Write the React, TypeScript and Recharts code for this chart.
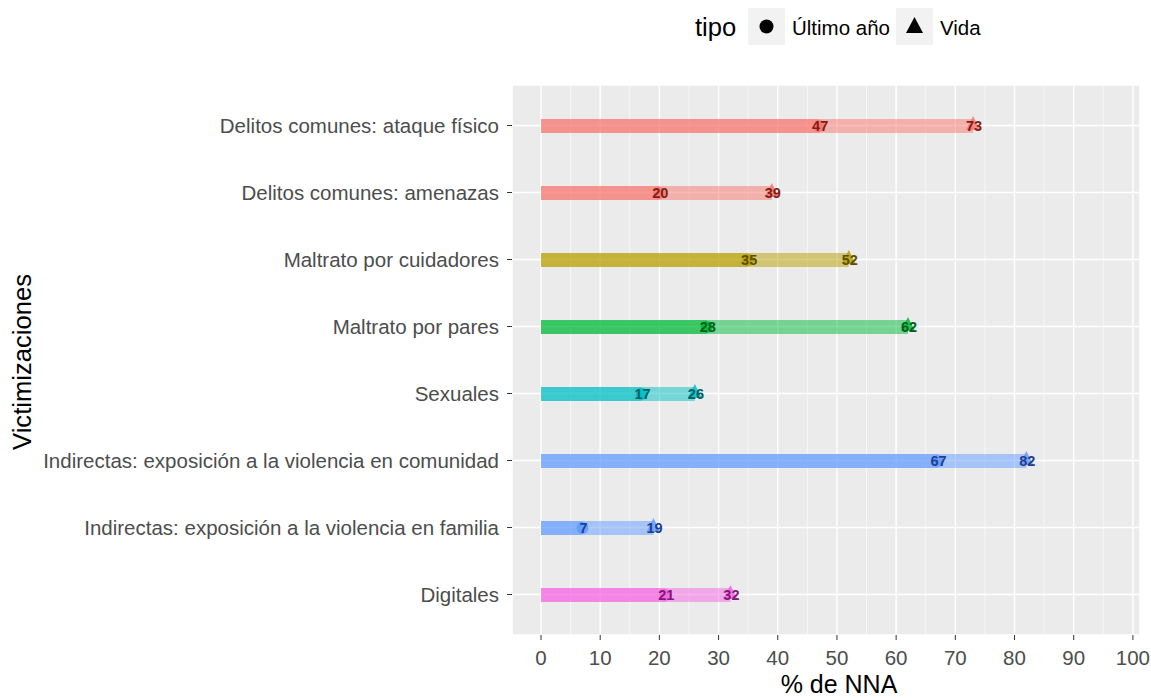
import React from "react";
import { ComposedChart, Bar, XAxis, YAxis, CartesianGrid } from "recharts";

// victimizaciones, de arriba hacia abajo
const categorias = [
  "Delitos comunes: ataque físico",
  "Delitos comunes: amenazas",
  "Maltrato por cuidadores",
  "Maltrato por pares",
  "Sexuales",
  "Indirectas: exposición a la violencia en comunidad",
  "Indirectas: exposición a la violencia en familia",
  "Digitales",
];
const ultimoAnio = [47, 20, 35, 28, 17, 67, 7, 21];
const vida = [73, 39, 52, 62, 26, 82, 19, 32];
const grupos = [
  "delitos",
  "delitos",
  "cuidadores",
  "pares",
  "sexuales",
  "indirectas",
  "indirectas",
  "digitales",
];
const xTicks = [0, 10, 20, 30, 40, 50, 60, 70, 80, 90, 100];
const xMinorTicks = [5, 15, 25, 35, 45, 55, 65, 75, 85, 95];

const colores: Record<string, string> = {
  delitos: "#F8766D",
  cuidadores: "#B79F00",
  pares: "#00BA38",
  sexuales: "#00BFC4",
  indirectas: "#619CFF",
  digitales: "#F564E3",
};
const coloresTexto: Record<string, string> = {
  delitos: "#7F1D17",
  cuidadores: "#5C5000",
  pares: "#005E1C",
  sexuales: "#005F62",
  indirectas: "#1F3F8F",
  digitales: "#7E1A74",
};

const data = categorias.map((name, i) => ({
  name,
  ultimo: ultimoAnio[i],
  vida: vida[i],
  grupo: grupos[i],
}));

const FONT = "'Liberation Sans', Arial, Helvetica, sans-serif";

const VidaShape = (p: any) => {
  const c = colores[p.payload.grupo];
  const cy = p.y + p.height / 2;
  const ex = p.x + p.width;
  return (
    <g>
      <rect x={p.x} y={p.y} width={p.width} height={p.height} fill={c} fillOpacity={0.5} />
      <path d={`M${ex},${cy - 10} L${ex + 7},${cy + 4} L${ex - 7},${cy + 4} Z`} fill={c} fillOpacity={0.85} />
      <text x={ex + 1} y={cy} textAnchor="middle" dominantBaseline="central" fontSize={14.5} fontWeight="bold" fill={coloresTexto[p.payload.grupo]} fontFamily={FONT}>
        {p.payload.vida}
      </text>
    </g>
  );
};

const UltimoShape = (p: any) => {
  const c = colores[p.payload.grupo];
  const cy = p.y + p.height / 2;
  const ex = p.x + p.width;
  return (
    <g>
      <rect x={p.x} y={p.y} width={p.width} height={p.height} fill={c} fillOpacity={0.5} />
      <circle cx={ex} cy={cy} r={6} fill={c} fillOpacity={0.9} />
      <text x={ex + 1} y={cy} textAnchor="middle" dominantBaseline="central" fontSize={14.5} fontWeight="bold" fill={coloresTexto[p.payload.grupo]} fontFamily={FONT}>
        {p.payload.ultimo}
      </text>
    </g>
  );
};

const YTick = (p: any) => (
  <text x={p.x} y={p.y} textAnchor="end" dominantBaseline="central" fontSize={20.5} fill="#4D4D4D" fontFamily={FONT}>
    {p.payload.value}
  </text>
);

const XTick = (p: any) => (
  <text x={p.x} y={p.y} dy="0.71em" textAnchor="middle" fontSize={20.5} fill="#4D4D4D" fontFamily={FONT}>
    {p.payload.value}
  </text>
);

const XTitle = (props: any) => {
  const vb = props.viewBox;
  return (
    <text x={vb.x + vb.width / 2 + 13} y={vb.y + vb.height - 7} textAnchor="middle" fontSize={25} fill="#000" fontFamily={FONT}>
      % de NNA
    </text>
  );
};

const YTitle = (props: any) => {
  const vb = props.viewBox;
  const cx = 22;
  const cy = vb.y + vb.height / 2 + 2;
  return (
    <text x={cx} y={cy} transform={`rotate(-90, ${cx}, ${cy})`} textAnchor="middle" dominantBaseline="central" fontSize={25.6} fill="#000" fontFamily={FONT}>
      Victimizaciones
    </text>
  );
};

const Leyenda = () => (
  <svg width={1151} height={60} style={{ position: "absolute", left: 0, top: 0 }}>
    <text x={695} y={27} dominantBaseline="central" fontSize={25.6} fill="#000" fontFamily={FONT}>tipo</text>
    <rect x={748} y={8} width={37} height={37} fill="#F2F2F2" />
    <circle cx={766.5} cy={26.5} r={7} fill="#000" />
    <text x={792} y={27} dominantBaseline="central" fontSize={20.5} fill="#000" fontFamily={FONT}>Último año</text>
    <rect x={896} y={8} width={37} height={37} fill="#F2F2F2" />
    <path d="M914.5,17 L923,33 L906,33 Z" fill="#000" />
    <text x={940} y={27} dominantBaseline="central" fontSize={20.5} fill="#000" fontFamily={FONT}>Vida</text>
  </svg>
);

export default function App() {
  return (
    <div style={{ position: "absolute", left: 0, top: 0, width: 1151, height: 700, background: "#fff" }}>
      <ComposedChart
        width={1151}
        height={700}
        data={data}
        layout="vertical"
        margin={{ top: 85, right: 11, bottom: 0, left: 10 }}
        barGap={-14}
      >
        <CartesianGrid fill="#EBEBEB" stroke="#FFFFFF" strokeWidth={1.4} />
        <CartesianGrid xAxisId="minor" horizontal={false} stroke="#FFFFFF" strokeWidth={0.6} />
        <XAxis
          type="number"
          domain={[-4.9, 101.2]}
          allowDataOverflow
          ticks={xTicks}
          interval={0}
          height={65}
          tickSize={5}
          tickMargin={10}
          axisLine={false}
          tickLine={{ stroke: "#333333" }}
          tick={<XTick />}
          label={<XTitle />}
        />
        <XAxis xAxisId="minor" type="number" domain={[-4.9, 101.2]} allowDataOverflow ticks={xMinorTicks} interval={0} hide />
        <YAxis
          type="category"
          dataKey="name"
          width={502}
          padding={{ top: 7, bottom: 7 }}
          tickSize={5}
          tickMargin={8}
          axisLine={false}
          tickLine={{ stroke: "#333333" }}
          tick={<YTick />}
          interval={0}
          label={<YTitle />}
        />
        <Bar dataKey="vida" barSize={14} shape={<VidaShape />} isAnimationActive={false} />
        <Bar dataKey="ultimo" barSize={14} shape={<UltimoShape />} isAnimationActive={false} />
      </ComposedChart>
      <Leyenda />
    </div>
  );
}
